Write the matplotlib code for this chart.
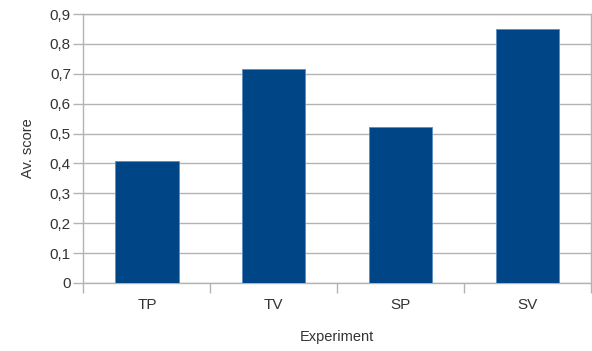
import matplotlib
matplotlib.use('Agg')
import matplotlib.pyplot as plt
from matplotlib.ticker import FuncFormatter

# Data
experiments = ['TP', 'TV', 'SP', 'SV']
scores = [0.407, 0.715, 0.523, 0.849]
y_ticks = [0, 0.1, 0.2, 0.3, 0.4, 0.5, 0.6, 0.7, 0.8, 0.9]

plt.rcParams['font.family'] = ['Liberation Sans', 'DejaVu Sans']

fig = plt.figure(figsize=(5.92, 3.51), dpi=100)
ax = fig.add_axes([0.141, 0.194, 0.857, 0.766])

x = range(len(experiments))
ax.bar(x, scores, width=0.5, color='#004586', edgecolor='#5b8cc0', linewidth=0.6, zorder=3)

ax.set_xlim(-0.5, len(experiments) - 0.5)
ax.set_ylim(0, 0.9)
ax.set_yticks(y_ticks)
ax.yaxis.set_major_formatter(FuncFormatter(lambda v, p: ('%g' % round(v, 1)).replace('.', ',')))
ax.set_xticks(list(x))
ax.set_xticklabels(experiments)
ax.tick_params(axis='x', length=0, pad=11, labelsize=11, colors='#333333')
ax.set_xticks([i + 0.5 for i in range(-1, len(experiments))], minor=True)
ax.tick_params(axis='x', which='minor', length=7, color='#b3b3b3', width=1)
ax.tick_params(axis='y', length=7, color='#b3b3b3', width=1, labelsize=11, pad=2)
for lbl in ax.get_yticklabels():
    lbl.set_color('#333333')

ax.grid(axis='y', color='#b3b3b3', linewidth=1, zorder=0)
for s in ax.spines.values():
    s.set_color('#b3b3b3')
    s.set_linewidth(1)

ax.set_xlabel('Experiment', fontsize=10.5, color='#333333', labelpad=13)
ax.set_ylabel('Av. score', fontsize=10.5, color='#333333', labelpad=11)

fig.savefig('out.png', dpi=100)
